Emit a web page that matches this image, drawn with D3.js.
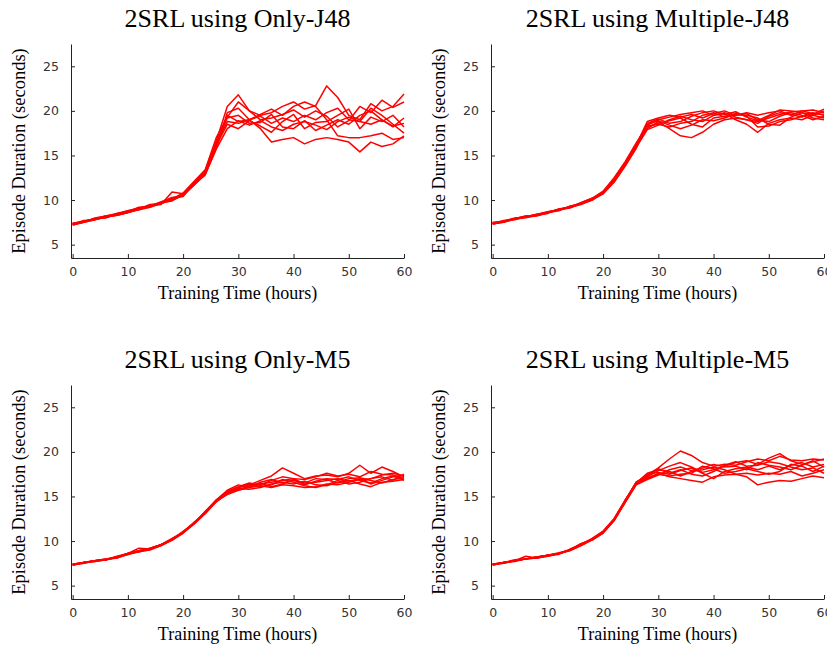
<!DOCTYPE html>
<html>
<head>
<meta charset="utf-8">
<script src="https://cdn.jsdelivr.net/npm/d3@7"></script>
<style>
  body { margin: 0; background: #fff; }
  svg { display: block; }
</style>
</head>
<body>
<svg id="chart" width="827" height="646"></svg>
<script>
// time axis (hours) shared by every run
const hours = [0, 2, 4, 6, 8, 10, 12, 14, 16, 18, 20, 22, 24, 26, 28, 30, 32, 34, 36, 38, 40, 42, 44, 46, 48, 50, 52, 54, 56, 58, 60];

const xTicks = [0, 10, 20, 30, 40, 50, 60];
const yTicks = [5, 10, 15, 20, 25];

const titles = ["2SRL using Only-J48", "2SRL using Multiple-J48", "2SRL using Only-M5", "2SRL using Multiple-M5"];

// episode duration (seconds), one row per run
const onlyJ48 = [
  [7.3,7.6,7.9,8.2,8.4,8.7,9.1,9.3,9.7,10.1,10.6,11.9,13.2,16.6, 20.5,21.8,20.0,19.5,19.8,20.5,21.0,20.2,20.6,22.8,21.5,19.5,19.0,20.8,20.0,20.5,21.9],
  [7.2,7.5,7.8,8.1,8.3,8.6,8.9,9.2,9.6,10.0,10.5,11.7,12.9,16.0, 19.5,18.8,19.0,18.0,16.5,16.8,17.0,16.3,16.8,17.0,16.8,16.5,15.4,16.5,16.0,16.3,17.2],
  [7.4,7.6,7.9,8.0,8.5,8.8,9.0,9.4,9.5,10.9,10.7,12.0,13.3,16.3, 18.8,18.6,19.0,19.6,20.2,19.5,20.5,21.0,20.5,19.0,17.2,17.0,17.0,17.2,17.5,16.8,17.0],
  [7.3,7.7,7.8,8.1,8.4,8.7,9.2,9.3,9.8,10.0,10.6,11.8,12.8,15.8, 19.8,20.3,19.0,19.4,18.6,19.2,18.8,19.5,19.0,19.8,20.3,19.0,18.8,20.3,19.5,18.5,17.5],
  [7.2,7.5,8.0,8.2,8.3,8.6,9.0,9.5,9.6,10.2,10.4,11.9,13.1,16.5, 19.2,19.5,18.6,18.7,19.6,18.2,18.0,18.9,17.8,18.4,19.0,18.5,19.5,20.0,19.0,18.2,19.2],
  [7.4,7.6,7.9,8.0,8.4,8.8,9.1,9.2,9.7,9.9,10.6,11.8,13.0,16.1, 18.5,18.0,18.9,18.3,17.6,18.8,19.6,18.0,18.7,18.8,19.5,20.2,18.0,19.3,18.8,19.5,18.2],
  [7.3,7.5,7.8,8.2,8.5,8.7,8.9,9.4,9.6,10.1,10.8,12.1,13.4,17.0, 19.3,21.0,20.0,19.0,19.2,19.6,20.1,19.3,20.0,19.4,18.2,18.9,20.5,19.8,21.2,20.4,21.0],
  [7.3,7.6,7.9,8.1,8.3,8.6,9.0,9.3,9.8,10.3,10.5,11.7,12.9,15.7, 18.0,18.9,18.4,18.9,18.2,17.8,18.5,18.8,18.4,17.9,18.8,19.3,18.8,18.5,19.0,18.3,18.6]
];

const multipleJ48 = [
  [7.4,7.6,7.9,8.1,8.3,8.6,8.9,9.2,9.6,10.1,10.8,12.2,14.0,16.0, 18.0,18.8,18.0,17.2,17.0,17.6,18.5,19.0,19.2,19.0,18.6,19.4,19.8,19.6,19.3,19.8,19.5],
  [7.3,7.5,7.9,8.2,8.3,8.7,8.9,9.3,9.6,10.0,10.9,12.4,14.2,16.3, 18.4,19.0,19.3,19.6,19.8,20.0,19.5,19.7,19.0,18.5,17.6,18.6,19.0,19.2,19.0,19.5,19.2],
  [7.4,7.6,8.0,8.1,8.4,8.6,9.0,9.2,9.7,10.2,10.7,12.0,13.8,15.8, 18.6,19.1,18.6,18.8,19.4,19.8,20.0,19.6,19.9,19.3,18.9,19.5,20.1,20.0,19.8,19.6,20.2],
  [7.4,7.7,7.9,8.0,8.3,8.6,8.8,9.3,9.6,10.1,10.8,12.3,14.1,16.1, 18.2,18.6,18.9,19.2,18.5,18.2,19.2,19.4,19.6,19.5,19.2,18.5,18.4,19.3,19.8,19.2,19.0],
  [7.3,7.6,7.8,8.1,8.4,8.7,8.9,9.2,9.5,10.0,10.7,12.1,13.9,16.2, 18.8,19.2,19.5,19.3,19.6,19.2,19.7,20.0,19.5,19.8,19.5,19.8,20.0,19.5,20.0,20.1,19.8],
  [7.5,7.6,7.9,8.1,8.3,8.5,9.0,9.2,9.7,10.2,11.0,12.5,14.3,16.4, 18.3,18.5,18.2,18.6,18.8,19.5,19.8,19.3,19.5,19.7,19.0,18.8,19.4,19.8,19.5,19.0,19.4],
  [7.4,7.5,7.9,8.2,8.3,8.6,8.9,9.1,9.6,10.1,10.8,12.2,13.9,15.9, 17.9,18.4,19.0,19.4,19.0,18.8,19.5,19.8,19.3,19.0,18.8,19.2,19.6,19.9,20.0,19.7,19.6],
  [7.3,7.6,7.9,8.1,8.2,8.6,8.9,9.2,9.6,10.0,10.9,12.3,14.0,16.1, 18.5,18.9,18.4,18.0,18.4,19.0,18.9,19.2,19.7,19.4,18.2,18.3,18.8,19.0,19.4,19.5,20.0]
];

const onlyM5 = [
  [7.4,7.6,7.8,7.9,8.2,8.6,9.2,9.1,9.6,10.2,11.0,12.1,13.2,14.6, 15.5,16.0,16.3,16.8,17.3,18.2,17.6,17.0,17.3,17.4,17.2,17.6,18.5,17.6,18.3,17.8,17.2],
  [7.3,7.6,7.7,7.9,8.1,8.5,8.8,9.0,9.5,10.1,10.9,11.9,13.1,14.4, 15.3,15.8,16.1,16.4,16.6,16.8,17.0,16.9,17.2,17.6,17.3,17.5,17.2,17.8,17.5,17.4,17.0],
  [7.4,7.5,7.8,8.0,8.2,8.6,8.9,9.1,9.6,10.2,11.1,12.0,13.3,14.6, 15.6,16.1,16.5,16.3,16.8,17.2,17.0,16.4,16.6,16.8,17.0,16.7,17.0,16.4,16.8,17.2,17.4],
  [7.3,7.6,7.8,7.9,8.2,8.6,8.8,9.2,9.6,10.3,11.0,12.0,13.2,14.5, 15.2,15.7,16.0,16.2,16.0,16.3,16.2,16.0,16.1,16.4,16.3,16.6,16.9,17.0,17.4,17.6,17.3],
  [7.4,7.6,7.7,7.9,8.2,8.5,8.9,9.1,9.5,10.2,10.9,12.1,13.1,14.4, 15.4,15.9,15.8,16.0,16.4,16.6,16.4,16.7,16.3,16.2,16.6,17.0,17.1,16.8,16.5,16.9,17.1],
  [7.3,7.6,7.8,8.0,8.1,8.6,8.9,9.2,9.6,10.1,11.0,12.0,13.3,14.6, 15.7,16.3,16.0,16.6,16.9,16.5,16.8,16.5,17.0,16.9,16.5,16.8,16.4,16.1,16.6,16.7,16.9],
  [7.4,7.6,7.8,7.9,8.3,8.6,8.9,9.1,9.6,10.2,11.0,12.0,13.2,14.5, 15.3,16.0,16.4,16.1,16.3,16.9,16.6,16.2,16.0,16.3,16.8,16.4,16.6,17.0,17.2,16.8,17.5],
  [7.3,7.5,7.8,7.9,8.2,8.6,8.8,9.1,9.5,10.1,10.9,12.0,13.1,14.5, 15.5,15.7,16.2,16.5,16.1,16.4,16.9,16.3,16.7,17.0,16.9,17.2,16.8,16.5,17.0,17.3,16.8]
];

const multipleM5 = [
  [7.4,7.6,7.8,8.0,8.1,8.4,8.6,9.0,9.6,10.2,11.0,12.4,14.5,16.6, 17.4,18.2,19.2,20.1,19.6,18.8,18.4,18.6,18.5,18.9,19.2,19.0,19.5,19.1,19.0,19.2,19.1],
  [7.3,7.6,7.9,8.0,8.2,8.4,8.6,8.9,9.5,10.2,11.1,12.5,14.6,16.4, 17.0,17.6,17.2,17.0,16.8,16.6,17.2,17.4,17.5,17.2,16.3,16.6,16.8,16.7,17.0,17.3,17.1],
  [7.4,7.6,7.8,8.3,8.1,8.4,8.6,9.0,9.7,10.1,10.9,12.3,14.4,16.5, 17.6,18.0,17.8,17.3,17.8,18.0,18.3,18.0,17.5,17.6,17.4,17.6,17.5,17.8,17.3,17.6,18.0],
  [7.4,7.5,7.8,8.0,8.2,8.4,8.5,9.1,9.6,10.2,11.0,12.4,14.5,16.6, 17.2,17.9,18.4,18.8,18.3,17.7,18.0,18.4,18.8,19.0,18.6,19.3,19.8,19.0,18.6,18.9,19.2],
  [7.3,7.6,7.8,8.0,8.1,8.3,8.6,9.0,9.6,10.3,11.1,12.5,14.6,16.5, 17.5,17.7,17.5,17.9,18.2,17.6,17.0,17.8,18.1,18.3,18.0,18.4,18.0,18.5,18.8,18.3,18.6],
  [7.4,7.6,7.7,8.0,8.2,8.4,8.7,9.0,9.5,10.1,10.9,12.3,14.3,16.3, 16.9,17.4,18.0,18.3,17.9,18.2,18.6,18.3,18.4,18.0,18.8,18.5,18.3,18.0,18.5,19.0,18.3],
  [7.3,7.6,7.8,8.0,8.1,8.4,8.6,9.0,9.7,10.2,11.0,12.4,14.5,16.6, 17.3,18.1,17.6,18.0,17.5,17.3,17.8,18.5,18.9,18.4,18.5,18.9,18.7,18.3,18.0,18.2,17.6],
  [7.4,7.5,7.8,8.0,8.2,8.3,8.6,9.0,9.6,10.2,11.0,12.4,14.4,16.4, 17.1,17.5,17.3,17.5,17.6,18.4,18.1,17.6,17.8,18.1,17.8,17.5,17.8,18.6,18.4,17.8,18.4]
];

const panelData = [onlyJ48, multipleJ48, onlyM5, multipleM5];

const svg = d3.select("#chart");
const plotW = 333;
const plotH = 214;
const origins = [[71, 44], [491, 44], [71, 385], [491, 385]];

const x = d3.scaleLinear().domain([-0.3, 60]).range([0, plotW]);
const y = d3.scaleLinear().domain([3.5, 27.5]).range([plotH, 0]);

const line = d3.line()
  .x((d, i) => x(hours[i]))
  .y(d => y(d));

panelData.forEach((runs, p) => {
  const g = svg.append("g")
    .attr("transform", "translate(" + origins[p][0] + "," + origins[p][1] + ")");

  g.append("text")
    .attr("x", plotW / 2)
    .attr("y", -17)
    .attr("text-anchor", "middle")
    .attr("font-family", "Liberation Serif, Times New Roman, serif")
    .attr("font-size", 26)
    .attr("fill", "#000")
    .text(titles[p]);

  runs.forEach(run => {
    g.append("path")
      .datum(run)
      .attr("fill", "none")
      .attr("stroke", "#ff0000")
      .attr("stroke-width", 1.5)
      .attr("stroke-linejoin", "round")
      .attr("d", line);
  });

  // axes: ticks point into the plot
  const xAxis = g.append("g")
    .attr("transform", "translate(0," + plotH + ")")
    .call(d3.axisBottom(x).tickValues(xTicks).tickSizeInner(-4).tickSizeOuter(0).tickPadding(9));
  const yAxis = g.append("g")
    .call(d3.axisLeft(y).tickValues(yTicks).tickSizeInner(-4).tickSizeOuter(0).tickPadding(12));

  [xAxis, yAxis].forEach(a => {
    a.select(".domain").attr("stroke", "#222");
    a.selectAll(".tick line").attr("stroke", "#222");
    a.selectAll(".tick text")
      .attr("font-family", "DejaVu Sans, sans-serif")
      .attr("font-size", 12.5)
      .attr("fill", "#333");
  });

  g.append("text")
    .attr("x", plotW / 2)
    .attr("y", plotH + 41)
    .attr("text-anchor", "middle")
    .attr("font-family", "Liberation Serif, Times New Roman, serif")
    .attr("font-size", 18)
    .attr("fill", "#000")
    .text("Training Time (hours)");

  g.append("text")
    .attr("transform", "translate(-46," + (plotH / 2) + ") rotate(-90)")
    .attr("text-anchor", "middle")
    .attr("font-family", "Liberation Serif, Times New Roman, serif")
    .attr("font-size", 18.5)
    .attr("fill", "#000")
    .text("Episode Duration (seconds)");
});
</script>
</body>
</html>
